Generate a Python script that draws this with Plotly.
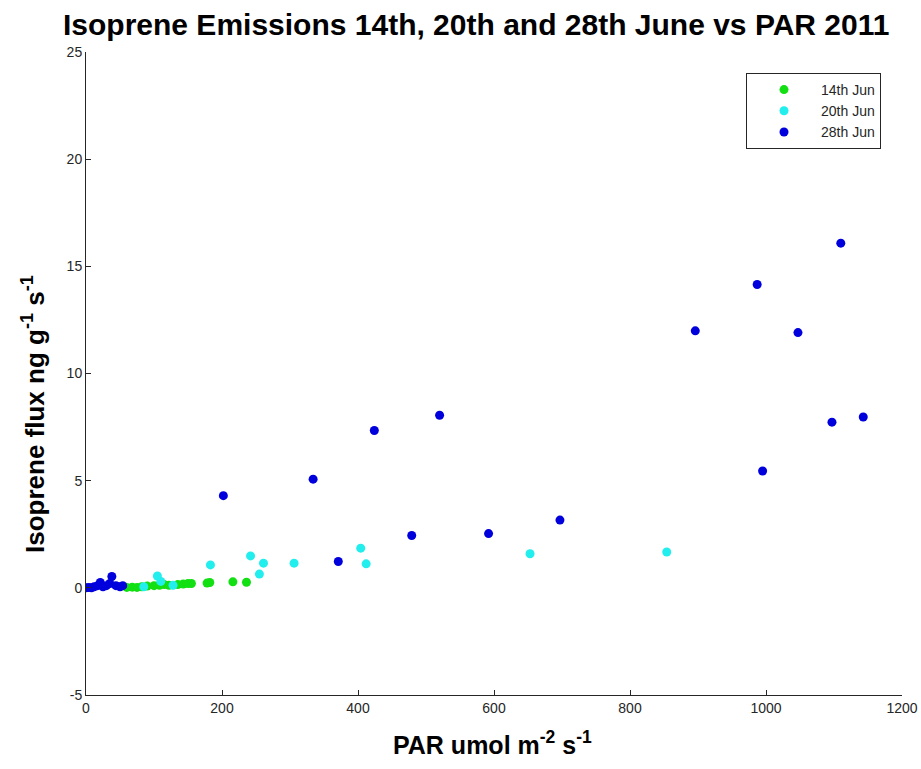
import plotly.graph_objects as go

# 14th June (green)
x_14 = [60, 68, 75, 82, 90, 100, 108, 115, 122, 135, 143, 150, 155, 178, 182, 216, 236]
y_14 = [0.02, 0.03, 0.02, 0.05, 0.08, 0.1, 0.12, 0.15, 0.12, 0.15, 0.18, 0.2, 0.2, 0.22, 0.25, 0.28, 0.26]

# 20th June (cyan)
x_20 = [85, 105, 110, 128, 183, 242, 255, 261, 306, 404, 412, 653, 854]
y_20 = [0.05, 0.55, 0.3, 0.12, 1.07, 1.49, 0.64, 1.15, 1.15, 1.85, 1.12, 1.59, 1.67]

# 28th June (blue)
x_28 = [0, 4, 8, 12, 17, 21, 25, 30, 35, 38, 44, 50, 54,
        202, 334, 371, 424, 479, 520, 592, 697, 896, 987, 995, 1047, 1097, 1110, 1143]
y_28 = [0.0, 0.02, 0.0, 0.05, 0.1, 0.25, 0.05, 0.1, 0.2, 0.53, 0.1, 0.05, 0.1,
        4.3, 5.07, 1.23, 7.34, 2.44, 8.05, 2.53, 3.16, 11.99, 14.15, 5.45, 11.91, 7.73, 16.08, 7.97]

series = [
    ("14th Jun", x_14, y_14, "#12e012"),
    ("20th Jun", x_20, y_20, "#22eeee"),
    ("28th Jun", x_28, y_28, "#0000dd"),
]

x_ticks = [0, 200, 400, 600, 800, 1000, 1200]
y_ticks = [-5, 0, 5, 10, 15, 20, 25]

title_text = "Isoprene Emissions 14th, 20th and 28th June vs PAR 2011"
x_label = "PAR umol m<sup>-2</sup> s<sup>-1</sup>"
y_label = "Isoprene flux ng g<sup>-1</sup> s<sup>-1</sup>"

W, H = 921, 769
L, R, T, B = 86, 19, 52, 74

fig = go.Figure()
for name, xs, ys, col in series:
    fig.add_trace(go.Scatter(
        x=xs, y=ys, mode="markers", name=name,
        marker=dict(color=col, size=9, line=dict(width=0)),
    ))

font_family = "Liberation Sans, Arial, Helvetica, sans-serif"

def px_x(p):
    return (p - L) / (W - L - R)

def px_y(p):
    return (H - B - p) / (H - T - B)

fig.update_layout(
    width=W, height=H,
    margin=dict(l=L, r=R, t=T, b=B, autoexpand=False),
    paper_bgcolor="white", plot_bgcolor="white",
    font=dict(family=font_family, color="#262626"),
    showlegend=True,
    legend=dict(
        x=px_x(881), xanchor="right", y=px_y(73), yanchor="top",
        bgcolor="white", bordercolor="#262626", borderwidth=1,
        font=dict(size=14, color="#262626", family=font_family),
        itemwidth=64, tracegroupgap=0,
    ),
    annotations=[
        dict(text="<b>" + title_text + "</b>", xref="paper", yref="paper",
             x=px_x(476), y=px_y(24), xanchor="center", yanchor="middle",
             showarrow=False, font=dict(size=30, color="black", family=font_family)),
        dict(text="<b>" + x_label + "</b>", xref="paper", yref="paper",
             x=px_x(492), y=px_y(743), xanchor="center", yanchor="middle",
             showarrow=False, font=dict(size=25, color="black", family=font_family)),
        dict(text="<b>" + y_label + "</b>", xref="paper", yref="paper",
             x=px_x(33), y=px_y(414), xanchor="center", yanchor="middle",
             textangle=-90, showarrow=False,
             font=dict(size=26, color="black", family=font_family)),
    ],
)

fig.update_xaxes(
    range=[0, 1200], tickvals=x_ticks, ticktext=[str(v) for v in x_ticks],
    showgrid=False, zeroline=False, showline=True, linecolor="#262626", linewidth=1,
    ticks="inside", ticklen=5, tickcolor="#262626", mirror=False, automargin=False,
    tickfont=dict(size=14, color="#262626"),
)
fig.update_yaxes(
    range=[-5, 25], tickvals=y_ticks, ticktext=[str(v) for v in y_ticks],
    showgrid=False, zeroline=False, showline=True, linecolor="#262626", linewidth=1,
    ticks="inside", ticklen=5, tickcolor="#262626", mirror=False, automargin=False,
    tickfont=dict(size=14, color="#262626"),
)

fig.write_html("out.html")
